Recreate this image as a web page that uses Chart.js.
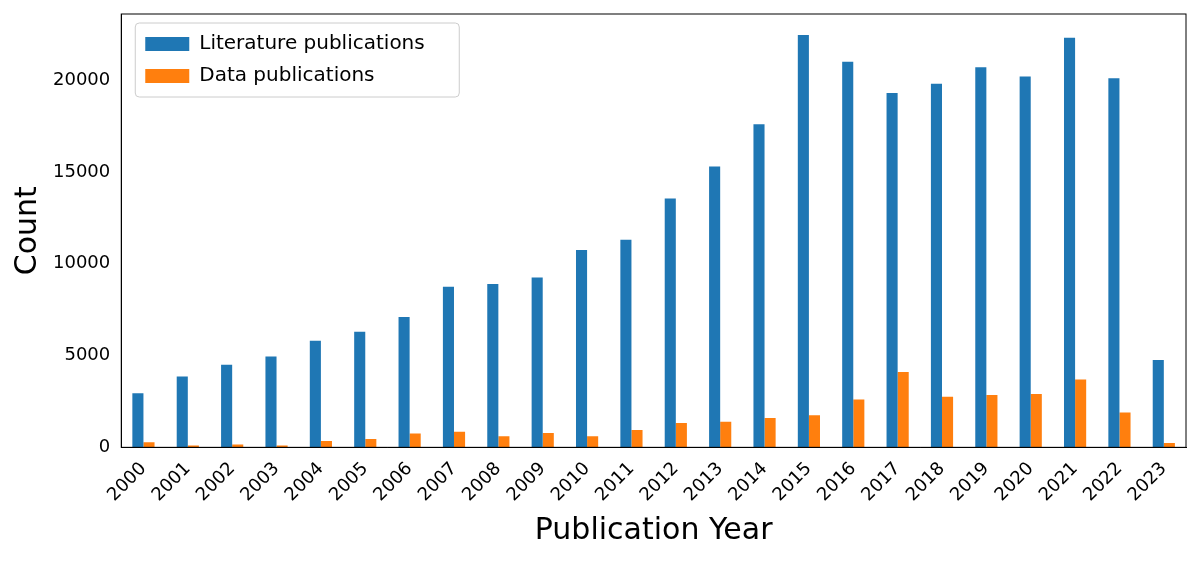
<!DOCTYPE html>
<html lang="en">
<head>
    <meta charset="UTF-8">
    <title>Publications per year</title>
    <script src="https://cdn.jsdelivr.net/npm/chart.js"></script>
    <style>
        body { margin: 0; background: #fff; }
    </style>
</head>
<body>
    <canvas id="pubChart" width="1200" height="561"></canvas>
    <script>
        const years = [];
        for (let y = 2000; y <= 2023; y++) years.push(String(y));
        const literature = [2950, 3860, 4500, 4950, 5800, 6300, 7100, 8750, 8900, 9250, 10750, 11300,
            13550, 15300, 17600, 22450, 21000, 19300, 19800, 20700, 20200, 22300, 20100, 4750];
        const dataPubs = [280, 100, 150, 100, 350, 450, 750, 850, 600, 780, 600, 950,
            1330, 1400, 1600, 1750, 2600, 4100, 2750, 2850, 2900, 3700, 1900, 230];

        // frame around plot + legend box inside top-left
        const framePlugin = {
            id: 'frame',
            afterDraw(chart) {
                const { ctx, chartArea: a } = chart;
                ctx.save();
                ctx.strokeStyle = '#000';
                ctx.lineWidth = 1;
                ctx.strokeRect(a.left, a.top, a.right - a.left, a.bottom - a.top);
                const x = a.left + 14, y = a.top + 9;
                ctx.fillStyle = 'rgba(255,255,255,0.8)';
                ctx.strokeStyle = '#ccc';
                ctx.beginPath();
                ctx.roundRect(x, y, 324, 74, 4);
                ctx.fill();
                ctx.stroke();
                ctx.font = '20px "DejaVu Sans", sans-serif';
                ctx.textBaseline = 'middle';
                chart.data.datasets.forEach((ds, i) => {
                    const ry = y + 21 + i * 32;
                    ctx.fillStyle = ds.backgroundColor;
                    ctx.fillRect(x + 10, ry - 7, 44, 14);
                    ctx.fillStyle = '#000';
                    ctx.fillText(ds.label, x + 64, ry);
                });
                ctx.restore();
            }
        };

        new Chart(document.getElementById('pubChart'), {
            type: 'bar',
            data: {
                labels: years,
                datasets: [
                    { label: 'Literature publications', data: literature, backgroundColor: '#1f77b4' },
                    { label: 'Data publications', data: dataPubs, backgroundColor: '#ff7f0e' }
                ]
            },
            options: {
                responsive: false,
                animation: false,
                devicePixelRatio: 1,
                layout: { padding: { top: 14, right: 14, left: 6, bottom: 8 } },
                datasets: { bar: { categoryPercentage: 0.5, barPercentage: 1 } },
                plugins: { legend: { display: false }, tooltip: { enabled: false } },
                scales: {
                    x: {
                        grid: { display: false },
                        border: { color: '#000' },
                        ticks: { color: '#000', autoSkip: false, maxRotation: 45, minRotation: 45,
                            font: { size: 18, family: '"DejaVu Sans", sans-serif' } },
                        title: { display: true, text: 'Publication Year', color: '#000',
                            font: { size: 30, family: '"DejaVu Sans", sans-serif' } }
                    },
                    y: {
                        min: 0, max: 23600,
                        afterBuildTicks: axis => {
                            axis.ticks = [0, 5000, 10000, 15000, 20000].map(v => ({ value: v }));
                        },
                        grid: { display: false },
                        border: { color: '#000' },
                        ticks: { color: '#000', callback: v => String(v),
                            font: { size: 18, family: '"DejaVu Sans", sans-serif' } },
                        title: { display: true, text: 'Count', color: '#000',
                            font: { size: 30, family: '"DejaVu Sans", sans-serif' } }
                    }
                }
            },
            plugins: [framePlugin]
        });
    </script>
</body>
</html>
